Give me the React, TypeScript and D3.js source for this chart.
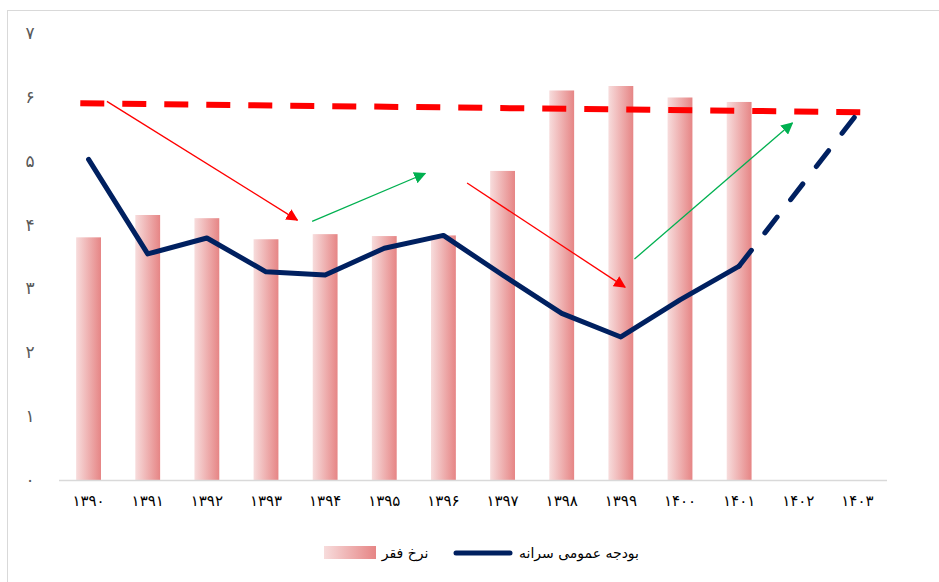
import React from 'react';
import * as d3 from 'd3';

const years = ['۱۳۹۰', '۱۳۹۱', '۱۳۹۲', '۱۳۹۳', '۱۳۹۴', '۱۳۹۵', '۱۳۹۶', '۱۳۹۷', '۱۳۹۸', '۱۳۹۹', '۱۴۰۰', '۱۴۰۱', '۱۴۰۲', '۱۴۰۳'];
const yTicks = [0, 1, 2, 3, 4, 5, 6, 7];
const yTickLabels = ['۰', '۱', '۲', '۳', '۴', '۵', '۶', '۷'];

// نرخ فقر (bars)
const povertyRate = [3.8, 4.15, 4.1, 3.77, 3.85, 3.82, 3.83, 4.84, 6.1, 6.17, 5.99, 5.92];
// بودجه عمومی سرانه (line)
const budget = [5.02, 3.54, 3.79, 3.26, 3.21, 3.63, 3.83, 3.21, 2.61, 2.24, 2.82, 3.35];
// projected part (dashed), from 1401 to 1403
const budgetForecast = [
  { i: 11, v: 3.35 },
  { i: 13, v: 5.74 },
];
// red dashed trend line (index, value)
const trend = [
  { i: -0.14, v: 5.9 },
  { i: 13.05, v: 5.76 },
];
// annotation arrows
const arrows = [
  { from: [0.31, 5.93], to: [3.53, 4.07], color: '#ff0000' },
  { from: [3.78, 4.05], to: [5.69, 4.8], color: '#00b050' },
  { from: [6.4, 4.65], to: [9.07, 3.02], color: '#ff0000' },
  { from: [9.23, 3.46], to: [11.9, 5.59], color: '#00b050' },
];

const W = 939;
const H = 582;
const margin = { left: 59, right: 52, top: 33, bottom: 102 };

export default function App() {
  const x = d3.scaleBand<string>().domain(years).range([margin.left, W - margin.right]).paddingInner(0.58).paddingOuter(0.29);
  const y = d3.scaleLinear().domain([0, 7]).range([H - margin.bottom, margin.top]);
  const band = (W - margin.left - margin.right) / years.length;
  const xi = d3.scaleLinear().domain([0, 13]).range([margin.left + band / 2, margin.left + band / 2 + 13 * band]);

  const line = d3.line<number>().x((_, i) => xi(i)).y(d => y(d));
  const line2 = d3.line<{ i: number; v: number }>().x(d => xi(d.i)).y(d => y(d.v));

  const font = '"DejaVu Sans", sans-serif';

  return (
    <svg width={W} height={H} style={{ position: 'absolute', left: 0, top: 0 }}>
      <defs>
        <linearGradient id="barGrad" x1="0" x2="1" y1="0" y2="0">
          <stop offset="0" stopColor="#f7dcdc" />
          <stop offset="1" stopColor="#e68585" />
        </linearGradient>
        {arrows.map((a, k) => (
          <marker key={k} id={`ah${k}`} viewBox="0 0 10 10" refX="9" refY="5" markerWidth="12" markerHeight="12" markerUnits="userSpaceOnUse" orient="auto">
            <path d="M0,0 L10,5 L0,10 z" fill={a.color} />
          </marker>
        ))}
      </defs>
      <rect x={7.5} y={10.5} width={W} height={H} fill="#fff" stroke="#d9d9d9" strokeWidth={1} />

      {yTicks.map((t, k) => (
        <text key={t} x={30} y={y(t)} dy="0.35em" textAnchor="middle" fontSize={17} fill="#595959" fontFamily={font}>
          {yTickLabels[k]}
        </text>
      ))}

      {povertyRate.map((v, i) => (
        <rect key={i} x={x(years[i])} y={y(v)} width={x.bandwidth()} height={y(0) - y(v)} fill="url(#barGrad)" />
      ))}

      <line x1={margin.left} x2={W - margin.right} y1={y(0) + 0.5} y2={y(0) + 0.5} stroke="#d9d9d9" strokeWidth={1.5} />

      {years.map(yr => (
        <text key={yr} x={(x(yr) as number) + x.bandwidth() / 2} y={H - margin.bottom + 21} dy="0.35em" textAnchor="middle" fontSize={15} fill="#000" fontFamily={font}>
          {yr}
        </text>
      ))}

      <path d={line2(trend) as string} fill="none" stroke="#ff0000" strokeWidth={6} strokeDasharray="24,18" />

      <path d={line2(budgetForecast) as string} fill="none" stroke="#002060" strokeWidth={5} strokeDasharray="20,22" strokeLinecap="round" />
      <path d={line(budget) as string} fill="none" stroke="#002060" strokeWidth={5} strokeLinejoin="round" strokeLinecap="round" />

      {arrows.map((a, k) => (
        <line key={k} x1={xi(a.from[0])} y1={y(a.from[1])} x2={xi(a.to[0])} y2={y(a.to[1])} stroke={a.color} strokeWidth={1.3} markerEnd={`url(#ah${k})`} />
      ))}

      <g fontFamily={font} fontSize={14} fill="#000">
        <rect x={324} y={546} width={52} height={13} fill="url(#barGrad)" />
        <text x={405} y={553} dy="0.35em" textAnchor="middle">نرخ فقر</text>
        <line x1={456} x2={510} y1={553} y2={553} stroke="#002060" strokeWidth={5} strokeLinecap="round" />
        <text x={579} y={553} dy="0.35em" textAnchor="middle">بودجه عمومی سرانه</text>
      </g>
    </svg>
  );
}
